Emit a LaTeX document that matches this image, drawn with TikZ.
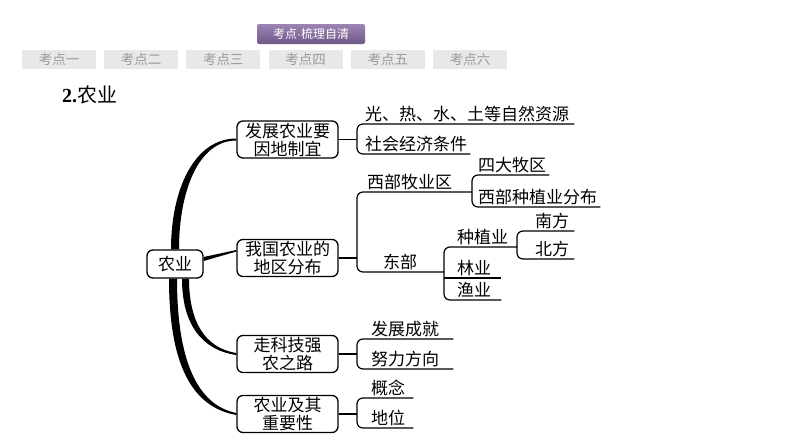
\documentclass[tikz,border=0pt]{standalone}
\usepackage{fontspec}
\setmainfont{Noto Sans CJK SC}
\newfontfamily\numfont{Liberation Serif}
\newfontfamily\dotfont{Liberation Sans}
\definecolor{hdtop}{HTML}{9C85B3}
\definecolor{hdbot}{HTML}{6F5888}
\definecolor{tabgray}{HTML}{E8E8E8}
\definecolor{tabtext}{HTML}{9A9A9A}
\tikzset{
  headtab/.style={top color=hdtop, bottom color=hdbot, draw=none, rounded corners=2pt,
    minimum width=108pt, minimum height=20pt, inner sep=0pt, text=white,
    font=\fontsize{12}{12}\selectfont},
  tabbox/.style={fill=tabgray, minimum width=74pt, minimum height=19pt, inner sep=0pt,
    text=tabtext, font=\fontsize{13.5}{13.5}\selectfont},
  topic/.style={draw, line width=1.3pt, rounded corners=6pt, fill=white, align=center,
    minimum width=101pt, minimum height=37pt, inner sep=1pt,
    font=\fontsize{17}{18}\selectfont},
  leaf/.style={anchor=south west, inner xsep=0pt, inner ysep=2pt,
    font=\fontsize{17}{18}\selectfont},
  link/.style={line width=1.2pt, rounded corners=6pt}
}
\begin{document}
\begin{tikzpicture}[x=1pt,y=-1pt]
\useasboundingbox (0,0) rectangle (794,447);
% tabs on top
\node[headtab] (head) at (311,34) {考点{\dotfont\char"00B7}梳理自清};
\foreach \t [count=\i from 0] in {一,二,三,四,五,六}
  \node[tabbox] (tab\i) at ({59+82.2*\i},59.5) {考点\t};
\node[anchor=west, inner sep=0pt, font=\fontsize{20}{20}\selectfont] (title) at (62,95)
  {{\numfont\bfseries 2.}农业};
% main topics
\node[topic, minimum width=56pt, minimum height=28pt] (root) at (175,264) {农业};
\node[topic] (fz) at (287.5,139.5) {发展农业要\\因地制宜};
\node[topic] (wogu) at (287.5,258) {我国农业的\\地区分布};
\node[topic] (zkj) at (287.5,354) {走科技强\\农之路};
\node[topic] (zy) at (287.5,414) {农业及其\\重要性};
% thick branches
\fill ([xshift=-4pt]root.north) .. controls +(0,-60) and +(-42,0) .. ([yshift=1pt]fz.west)
  -- ([yshift=-1pt]fz.west) .. controls +(-38,0) and +(0,-58) .. ([xshift=4pt]root.north) -- cycle;
\fill ([xshift=0pt,yshift=7pt]root.east) -- ([yshift=8pt]wogu.west)
  -- ([yshift=6.5pt]wogu.west) -- ([yshift=3pt]root.east) -- cycle;
\fill ([xshift=7pt]root.south) .. controls +(0,45) and +(-35,-5) .. ([yshift=-1pt]zkj.west)
  -- ([yshift=1pt]zkj.west) .. controls +(-32,-5) and +(0,42) .. ([xshift=14pt]root.south) -- cycle;
\fill ([xshift=-6pt]root.south) .. controls +(0,85) and +(-45,-8) .. ([yshift=-1pt]zy.west)
  -- ([yshift=1pt]zy.west) .. controls +(-40,-8) and +(0,80) .. ([xshift=2pt]root.south) -- cycle;
% forks
\coordinate (fk1) at (357,0);
\coordinate (fk2) at (472,0);
\coordinate (fk3) at (444,0);
\coordinate (fk4) at (517,0);
% group 1
\node[leaf] (g1a) at (365,124) {光、热、水、土等自然资源};
\node[leaf] (g1b) at (365,154) {社会经济条件};
\draw[link] (fz.east) -- (fz.east -| fk1);
\draw[link] ([xshift=5pt]g1a.south east) -- (g1a.south -| fk1) -- (g1b.south -| fk1)
  -- ([xshift=3pt]g1b.south east);
% group 2
\node[leaf] (xibu) at (367,192) {西部牧业区};
\node[leaf] (dongbu) at (383,272) {东部};
\node[leaf] (sida) at (478,175) {四大牧区};
\node[leaf] (xizhong) at (478,207) {西部种植业分布};
\node[leaf] (zhongzhi) at (457,247) {种植业};
\node[leaf] (linye) at (457,278) {林业};
\node[leaf] (yuye) at (457,300) {渔业};
\node[leaf] (nanfang) at (535,231) {南方};
\node[leaf] (beifang) at (535,259) {北方};
\draw[link] (wogu.east) -- (wogu.east -| fk1);
\draw[link] (xibu.south -| fk2) -- (xibu.south -| fk1) -- (dongbu.south -| fk1)
  -- (dongbu.south -| fk3);
\draw[link] ([xshift=3pt]sida.south east) -- (sida.south -| fk2) -- (xizhong.south -| fk2)
  -- ([xshift=3pt]xizhong.south east);
\draw[link] (zhongzhi.south -| fk4) -- (zhongzhi.south -| fk3) -- (yuye.south -| fk3)
  -- ([xshift=10pt]yuye.south east);
\draw[link] (linye.south -| fk3) -- ([xshift=10pt]linye.south east);
\draw[link] ([xshift=5pt]nanfang.south east) -- (nanfang.south -| fk4) -- (beifang.south -| fk4)
  -- ([xshift=5pt]beifang.south east);
% group 3
\node[leaf] (g3a) at (371,339) {发展成就};
\node[leaf] (g3b) at (371,369) {努力方向};
\draw[link] (zkj.east) -- (zkj.east -| fk1);
\draw[link] ([xshift=14pt]g3a.south east) -- (g3a.south -| fk1) -- (g3b.south -| fk1)
  -- ([xshift=14pt]g3b.south east);
% group 4
\node[leaf] (g4a) at (371,398) {概念};
\node[leaf] (g4b) at (371,428) {地位};
\draw[link] (zy.east) -- (zy.east -| fk1);
\draw[link] ([xshift=8pt]g4a.south east) -- (g4a.south -| fk1) -- (g4b.south -| fk1)
  -- ([xshift=8pt]g4b.south east);
\end{tikzpicture}
\end{document}
